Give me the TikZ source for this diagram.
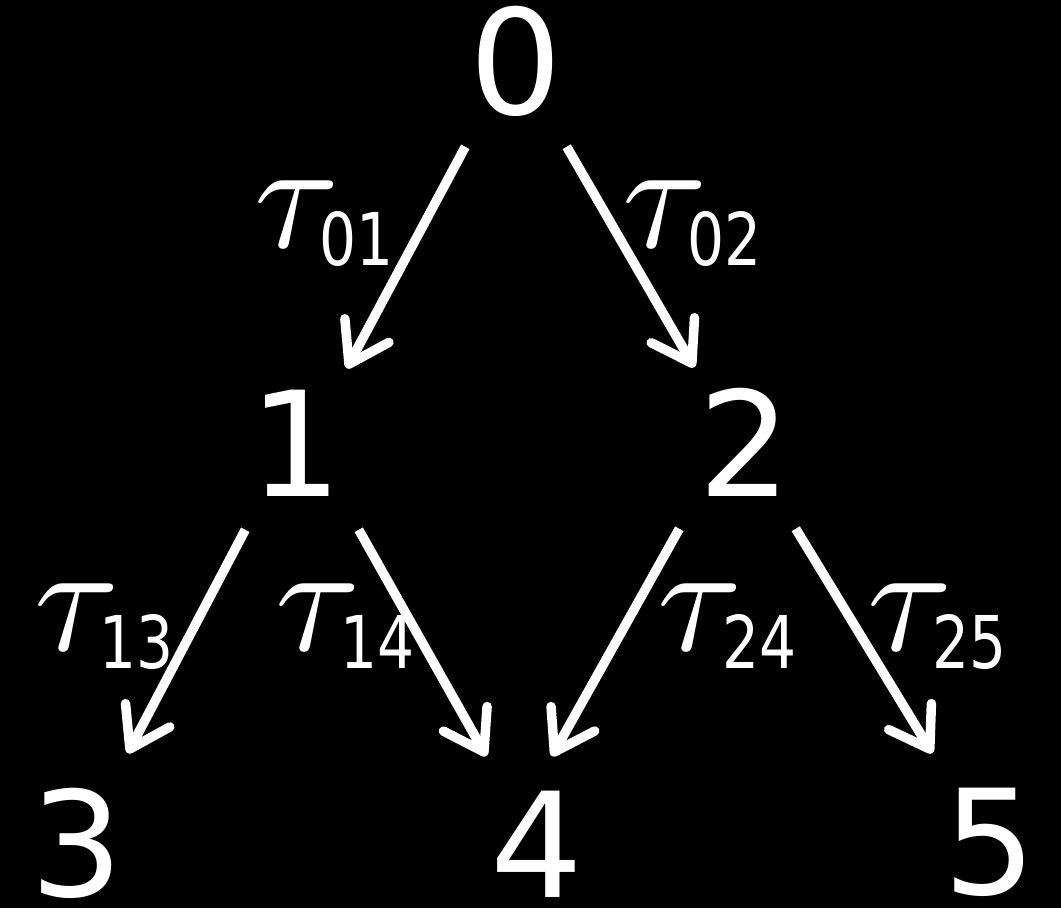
\documentclass[tikz,border=0pt]{standalone}
\usepackage{graphicx}
\usepackage{fontspec}
\setmainfont{DejaVu Sans}
\newfontfamily\subfont[FakeStretch=0.8]{DejaVu Sans}
\usetikzlibrary{arrows.meta}
\newcommand{\tlabel}[1]{\scalebox{4.4}{$\tau$}\kern-0.2cm\raisebox{-0.18cm}{\fontsize{20.7}{24}\subfont #1}}
\begin{document}
\begin{tikzpicture}[x=0.01cm, y=-0.01cm,
    vertex/.style={text=white, font=\fontsize{41.5}{46}\selectfont, inner sep=0pt, text depth=0.12cm, minimum width=1cm, minimum height=1.6cm},
    leaf/.style={vertex, text depth=0pt, minimum height=0pt},
    rate/.style={text=white, inner sep=0pt, anchor=base west},
    edge/.style={white, line width=2.7pt, -{Straight Barb[length=0.38cm, width=0.5cm, round]}}]
    % Fond
    \useasboundingbox (0,0) rectangle (1061,908);
    \fill[black] (0,0) rectangle (1061,908);

    % Sommets
    \node[vertex] (n0) at (516,66) {0};
    \node[vertex] (n1) at (296,449) {1};
    \node[vertex] (n2) at (745,448) {2};
    \node[leaf] (n3) at (77,842) {3};
    \node[leaf] (n4) at (537,844) {4};
    \node[leaf] (n5) at (990,841) {5};

    % Transitions
    \draw[edge] (n0.south west) -- (n1.north east);
    \draw[edge] (n0.south east) -- (n2.north west);
    \draw[edge] (n1.south west) -- ([yshift=0.34cm]n3.north east);
    \draw[edge] ([xshift=0.12cm]n1.south east) -- ([yshift=0.34cm]n4.north west);
    \draw[edge] ([xshift=-0.15cm]n2.south west) -- ([xshift=0.15cm, yshift=0.34cm]n4.north);
    \draw[edge] (n2.south east) -- ([xshift=-0.07cm, yshift=0.34cm]n5.north west);

    % Taux
    \node[rate] (t01) at (254,247) {\tlabel{01}};
    \node[rate] (t02) at (622,247) {\tlabel{02}};
    \node[rate] (t13) at (34,650) {\tlabel{13}};
    \node[rate] (t14) at (275,650) {\tlabel{14}};
    \node[rate] (t24) at (657,650) {\tlabel{24}};
    \node[rate] (t25) at (867,650) {\tlabel{25}};
\end{tikzpicture}
\end{document}
